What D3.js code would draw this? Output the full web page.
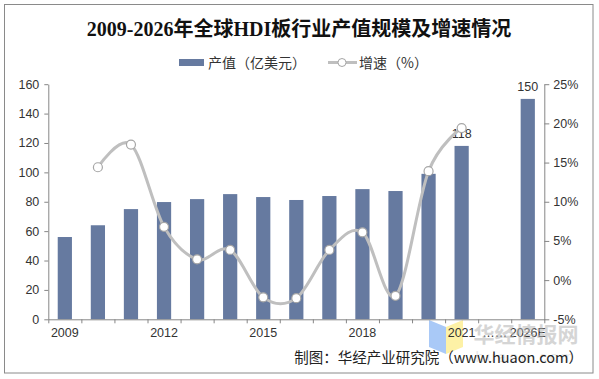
<!DOCTYPE html>
<html><head><meta charset="utf-8">
<script src="https://cdn.jsdelivr.net/npm/d3@7"></script>
<style>body{margin:0;background:#fff;}svg{display:block;}</style>
</head><body>
<script>
const categories = ["2009","2010","2011","2012","2013","2014","2015","2016","2017","2018","2019","2020","2021","……","2026E"];
const outputValues = [56,64,75,79.8,81.8,85.2,83.2,81.2,83.9,88.6,87.3,99,118,null,150];
const growthRates = [null,14.4,17.3,6.8,2.65,3.85,-2.2,-2.3,3.85,6.1,-2.0,13.9,19.4,null,null];
const shownXLabels = ["2009","2012","2015","2018","2021","……","2026E"];
const labelledBars = ["2021","2026E"];
const leftTicks = [0,20,40,60,80,100,120,140,160];
const rightTicks = [-5,0,5,10,15,20,25];

const W=599,H=379;
const svg=d3.select("body").append("svg").attr("width",W).attr("height",H);
const axisColor="#868686", textColor="#333";
const latin="Arial, 'Liberation Sans', 'Noto Sans CJK SC', sans-serif";
const cjk="'Noto Sans CJK SC', Arial, sans-serif";

svg.append("rect").attr("x",4.5).attr("y",4.5).attr("width",588.5).attr("height",368.5)
  .attr("fill","#fff").attr("stroke","#8a8a8a").attr("stroke-width",1);

// title
svg.append("text").attr("x",299).attr("y",36).attr("text-anchor","middle")
  .attr("font-family","'Liberation Serif','DejaVu Serif','Noto Sans CJK SC',serif")
  .attr("font-weight","bold").attr("font-size",20).attr("fill","#111")
  .text("2009-2026年全球HDI板行业产值规模及增速情况");

const x0=48.3,x1=544.3,yTop=84.2,yBot=319.3;
const x=d3.scaleBand().domain(categories).range([x0,x1]).paddingInner(0.57).paddingOuter(0.285);
const xIdx=d3.scaleLinear().domain([0,categories.length]).range([x0,x1]);
const y=d3.scaleLinear().domain([0,160]).range([yBot,yTop]);
const y2=d3.scaleLinear().domain([-5,25]).range([yBot,yTop]);

// watermark logo (behind)
const wm=svg.append("g");
wm.append("polygon").attr("points","429,320 446,327 446,354 429,347").attr("fill","#a9c9f7");
wm.append("polygon").attr("points","446,327 463,320 463,347 446,354").attr("fill","#fdf1a6");

// bars
const barColor="#667aa0";
svg.append("g").selectAll("rect").data(categories.map((c,i)=>({c,v:outputValues[i]})).filter(d=>d.v!=null))
  .join("rect").attr("x",d=>x(d.c)).attr("width",x.bandwidth())
  .attr("y",d=>y(d.v)).attr("height",d=>y(0)-y(d.v)).attr("fill",barColor);

// bar labels
svg.append("g").selectAll("text").data(categories.map((c,i)=>({c,v:outputValues[i]})).filter(d=>labelledBars.includes(d.c)))
  .join("text").attr("x",d=>x(d.c)+x.bandwidth()/2).attr("y",d=>y(d.v)-8)
  .attr("text-anchor","middle").attr("font-family",latin).attr("font-size",12.5).attr("fill",textColor)
  .text(d=>d.v);

// axes
function styleAxis(g){g.selectAll("path,line").attr("stroke",axisColor);g.selectAll("text").attr("fill",textColor).attr("font-family",latin).attr("font-size",12.5);}
svg.append("g").attr("transform",`translate(${x0},0)`)
  .call(d3.axisLeft(y).tickValues(leftTicks).tickSize(4).tickSizeOuter(0).tickPadding(5)).call(styleAxis);
svg.append("g").attr("transform",`translate(${x1},0)`)
  .call(d3.axisRight(y2).tickValues(rightTicks).tickSize(5).tickSizeOuter(0).tickPadding(4).tickFormat(d=>d+"%")).call(styleAxis);
svg.append("g").attr("transform",`translate(0,${yBot})`)
  .call(d3.axisBottom(xIdx).tickValues(d3.range(categories.length+1)).tickSize(4).tickSizeOuter(0).tickFormat(""))
  .call(styleAxis);
svg.append("g").selectAll("text").data(shownXLabels).join("text")
  .attr("x",d=>x(d)+x.bandwidth()/2).attr("y",yBot+18).attr("text-anchor","middle")
  .attr("font-family",latin).attr("font-size",12.5).attr("fill",textColor).text(d=>d);

// growth line
const pts=categories.map((c,i)=>({c,v:growthRates[i]})).filter(d=>d.v!=null);
const line=d3.line().x(d=>x(d.c)+x.bandwidth()/2).y(d=>y2(d.v)).curve(d3.curveCatmullRom.alpha(0));
svg.append("path").datum(pts).attr("d",line).attr("fill","none").attr("stroke","#bfbfbf").attr("stroke-width",3);
svg.append("g").selectAll("circle").data(pts).join("circle")
  .attr("cx",d=>x(d.c)+x.bandwidth()/2).attr("cy",d=>y2(d.v)).attr("r",4.5)
  .attr("fill","#fff").attr("stroke","#a6a6a6").attr("stroke-width",1.2);

// legend
const lg=svg.append("g");
lg.append("rect").attr("x",179).attr("y",59).attr("width",25).attr("height",7).attr("fill",barColor);
lg.append("text").attr("x",208).attr("y",67.5).attr("font-family",cjk).attr("font-size",14).attr("fill",textColor).text("产值（亿美元）");
lg.append("line").attr("x1",328).attr("x2",357).attr("y1",62.5).attr("y2",62.5).attr("stroke","#bfbfbf").attr("stroke-width",3);
lg.append("circle").attr("cx",342).attr("cy",62.5).attr("r",4).attr("fill","#fff").attr("stroke","#a6a6a6");
lg.append("text").attr("x",359).attr("y",67.5).attr("font-family",cjk).attr("font-size",14).attr("fill",textColor).text("增速（%）");

// watermark text
svg.append("text").attr("x",526).attr("y",342).attr("text-anchor","middle").attr("font-family",cjk)
  .attr("font-weight","bold").attr("font-size",21).attr("fill","#b4b4b4").attr("opacity",0.55).text("华经情报网");
svg.append("text").attr("x",526).attr("y",362).attr("text-anchor","middle").attr("font-family",latin)
  .attr("font-size",15).attr("letter-spacing",3).attr("fill","#d8d8d8").attr("opacity",0.6).text("huaon.com");

// source
svg.append("text").attr("x",583).attr("y",363).attr("text-anchor","end").attr("font-family",cjk)
  .attr("font-size",14.5).attr("fill","#222").text("制图：华经产业研究院（www.huaon.com）");
</script>
</body></html>
